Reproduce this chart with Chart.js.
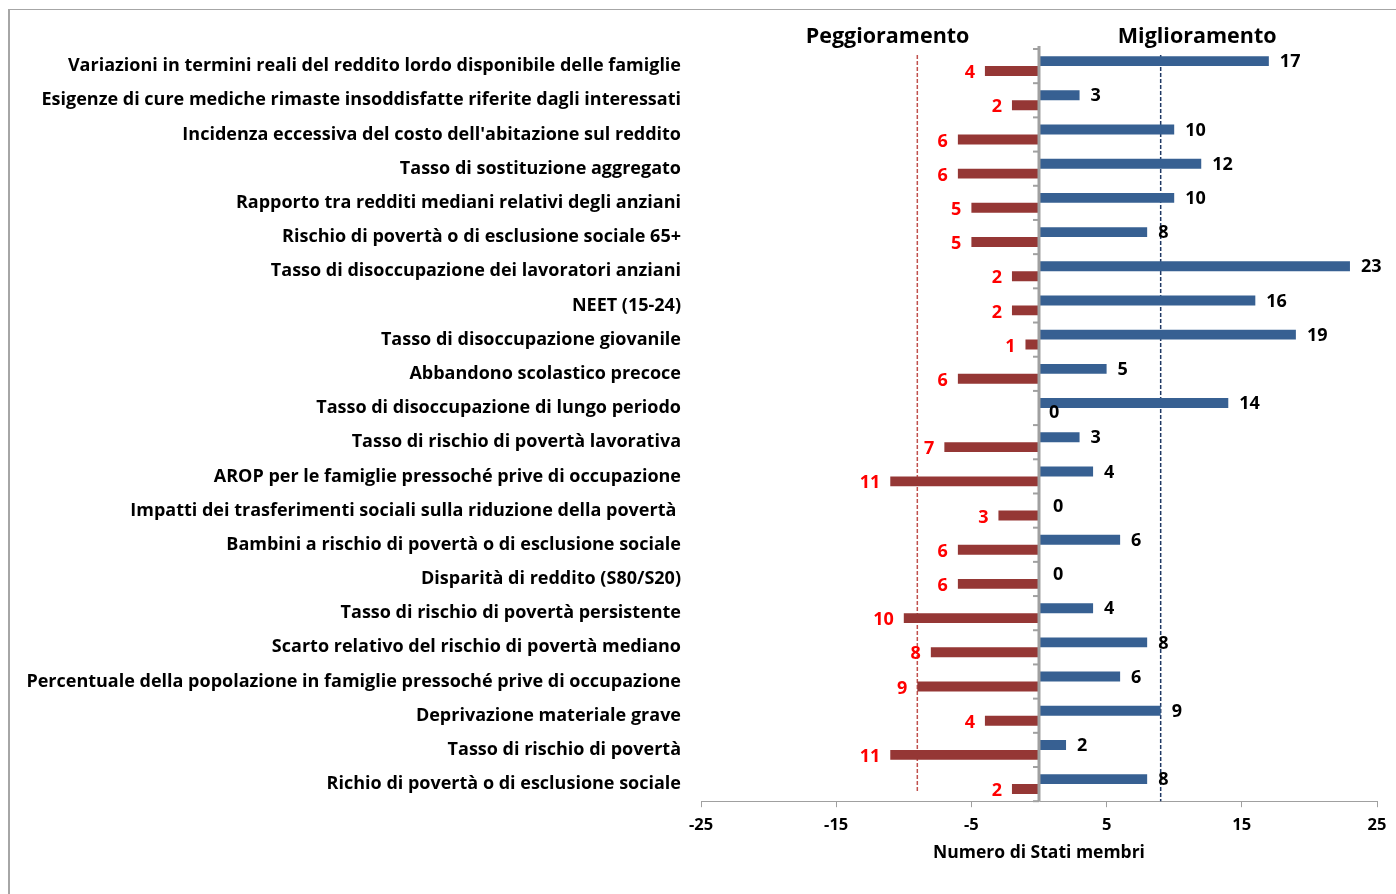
<!DOCTYPE html>
<html>
<head>
<meta charset="utf-8">
<script src="https://cdn.jsdelivr.net/npm/chart.js@4"></script>
<style>
  html, body { margin: 0; padding: 0; background: #fff; }
  #wrap { position: relative; width: 1396px; height: 894px; }
  #frame { position: absolute; left: 8px; top: 9px; right: -10px; bottom: -10px; border-top: 1px solid #a6a6a6; border-left: 2px solid #a6a6a6; }
  canvas { position: absolute; left: 0; top: 0; }
</style>
</head>
<body>
<div id="wrap">
  <div id="frame"></div>
  <canvas id="chart" width="1396" height="894"></canvas>
</div>
<script>
const categories = [
  "Variazioni in termini reali del reddito lordo disponibile delle famiglie",
  "Esigenze di cure mediche rimaste insoddisfatte riferite dagli interessati",
  "Incidenza eccessiva del costo dell'abitazione sul reddito",
  "Tasso di sostituzione aggregato",
  "Rapporto tra redditi mediani relativi degli anziani",
  "Rischio di povertà o di esclusione sociale 65+",
  "Tasso di disoccupazione dei lavoratori anziani",
  "NEET (15-24)",
  "Tasso di disoccupazione giovanile",
  "Abbandono scolastico precoce",
  "Tasso di disoccupazione di lungo periodo",
  "Tasso di rischio di povertà lavorativa",
  "AROP per le famiglie pressoché prive di occupazione",
  "Impatti dei trasferimenti sociali sulla riduzione della povertà ",
  "Bambini a rischio di povertà o di esclusione sociale",
  "Disparità di reddito (S80/S20)",
  "Tasso di rischio di povertà persistente",
  "Scarto relativo del rischio di povertà mediano",
  "Percentuale della popolazione in famiglie pressoché prive di occupazione",
  "Deprivazione materiale grave",
  "Tasso di rischio di povertà",
  "Richio di povertà o di esclusione sociale"
];
const miglioramento = [17, 3, 10, 12, 10, 8, 23, 16, 19, 5, 14, 3, 4, 0, 6, 0, 4, 8, 6, 9, 2, 8];
const peggioramento = [4, 2, 6, 6, 5, 5, 2, 2, 1, 6, 0, 7, 11, 3, 6, 6, 10, 8, 9, 4, 11, 2];
// linee tratteggiate (media)
const mediaPeggioramento = -9;
const mediaMiglioramento = 9;
const xTicks = [-25, -15, -5, 5, 15, 25];

const FONT = "'Open Sans'";

const overlay = {
  id: "overlay",
  beforeDatasetsDraw(chart) {
    const { ctx, chartArea, scales } = chart;
    ctx.save();
    ctx.lineWidth = 1.5;
    ctx.setLineDash([4, 2]);
    let xr = scales.x.getPixelForValue(mediaPeggioramento);
    ctx.strokeStyle = "#c0504d";
    ctx.beginPath();
    ctx.moveTo(xr, chartArea.top + 6);
    ctx.lineTo(xr, chartArea.bottom - 10);
    ctx.stroke();
    let xb = scales.x.getPixelForValue(mediaMiglioramento);
    ctx.strokeStyle = "#1f3864";
    ctx.beginPath();
    ctx.moveTo(xb, chartArea.top + 6);
    ctx.lineTo(xb, chartArea.bottom);
    ctx.stroke();
    ctx.restore();
  },
  afterDatasetsDraw(chart) {
    const { ctx, chartArea, scales } = chart;
    const x0 = scales.x.getPixelForValue(0);
    ctx.save();
    // asse verticale sullo zero
    ctx.strokeStyle = "#a0a0a0";
    ctx.lineWidth = 3;
    ctx.beginPath();
    ctx.moveTo(x0, chartArea.top - 3);
    ctx.lineTo(x0, chartArea.bottom);
    ctx.stroke();
    ctx.lineWidth = 2;
    const half = (scales.y.getPixelForValue(1) - scales.y.getPixelForValue(0)) / 2;
    for (let i = 0; i <= categories.length; i++) {
      const y = scales.y.getPixelForValue(i) - half;
      ctx.beginPath();
      ctx.moveTo(x0 - 6, y);
      ctx.lineTo(x0, y);
      ctx.stroke();
    }
    // etichette valori
    ctx.font = "bold 18px " + FONT;
    ctx.textBaseline = "middle";
    chart.getDatasetMeta(0).data.forEach((bar, i) => {
      const v = miglioramento[i];
      ctx.fillStyle = "#000";
      ctx.textAlign = "left";
      ctx.fillText(String(v), v === 0 ? x0 + 14 : bar.x + 11, bar.y + 1);
    });
    chart.getDatasetMeta(1).data.forEach((bar, i) => {
      const v = peggioramento[i];
      if (v === 0) {
        ctx.fillStyle = "#000";
        ctx.textAlign = "left";
        ctx.fillText("0", x0 + 10, bar.y);
      } else {
        ctx.fillStyle = "#ff0000";
        ctx.textAlign = "right";
        ctx.fillText(String(v), bar.x - 10, bar.y + 2);
      }
    });
    // intestazioni
    ctx.fillStyle = "#000";
    ctx.textAlign = "center";
    ctx.textBaseline = "alphabetic";
    ctx.font = "bold 21.5px " + FONT;
    ctx.fillText("Peggioramento", scales.x.getPixelForValue(-11.2), 43);
    ctx.fillText("Miglioramento", scales.x.getPixelForValue(11.7), 43);
    ctx.restore();
  }
};

new Chart(document.getElementById("chart").getContext("2d"), {
  type: "bar",
  data: {
    labels: categories,
    datasets: [
      {
        label: "Miglioramento",
        data: miglioramento,
        backgroundColor: "#376092",
        categoryPercentage: 0.58,
        barPercentage: 1.0
      },
      {
        label: "Peggioramento",
        data: peggioramento.map((v) => -v),
        backgroundColor: "#953735",
        categoryPercentage: 0.58,
        barPercentage: 1.0
      }
    ]
  },
  options: {
    indexAxis: "y",
    responsive: false,
    animation: false,
    layout: { padding: { top: 49, right: 19, bottom: 26, left: 0 } },
    plugins: { legend: { display: false }, tooltip: { enabled: false } },
    scales: {
      x: {
        min: -25,
        max: 25,
        afterBuildTicks: (scale) => { scale.ticks = xTicks.map((v) => ({ value: v })); },
        grid: { drawOnChartArea: false, drawTicks: true, tickLength: 6, color: "#a0a0a0" },
        border: { color: "#a0a0a0", width: 1 },
        ticks: { color: "#000", padding: 8, font: { family: FONT, weight: "bold", size: 16.5 } },
        title: {
          display: true,
          text: "Numero di Stati membri",
          color: "#000",
          padding: { top: 0, bottom: 4 },
          font: { family: FONT, weight: "bold", size: 17.5 }
        }
      },
      y: {
        afterFit: (scale) => { scale.width = 701; },
        grid: { display: false },
        border: { display: false },
        ticks: { color: "#000", padding: 12, autoSkip: false, font: { family: FONT, weight: "bold", size: 18 } }
      }
    }
  },
  plugins: [overlay]
});
</script>
</body>
</html>
